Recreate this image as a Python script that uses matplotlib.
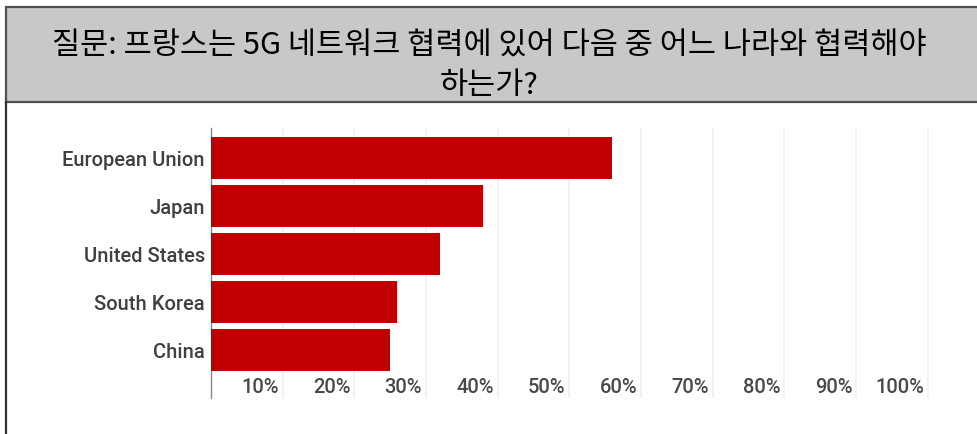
import matplotlib.pyplot as plt
from matplotlib.patches import Rectangle
from matplotlib.lines import Line2D
from matplotlib.transforms import ScaledTranslation

# survey answers (share of respondents, %)
countries = ["European Union", "Japan", "United States", "South Korea", "China"]
shares = [56, 38, 32, 26, 25]
tick_vals = [10, 20, 30, 40, 50, 60, 70, 80, 90, 100]
tick_labels = ["10%", "20%", "30%", "40%", "50%", "60%", "70%", "80%", "90%", "100%"]
title_lines = ["질문: 프랑스는 5G 네트워크 협력에 있어 다음 중 어느 나라와 협력해야", "하는가?"]

W, H = 978, 434
fig = plt.figure(figsize=(W / 100, H / 100), dpi=100)
fig.patch.set_facecolor("white")

# grey question box on top
fig.patches.append(Rectangle((6 / W, 1 - 102 / H), (W - 6) / W + 0.01, 95 / H,
                             transform=fig.transFigure, facecolor="#c8c8c8",
                             edgecolor="#505050", linewidth=1.6, zorder=0))
fig.lines.append(Line2D([6 / W, 6 / W], [0, 1 - 102 / H], transform=fig.transFigure,
                        color="#303030", linewidth=1.6))

kr = ["Noto Sans CJK KR", "DejaVu Sans"]
fig.text(489 / W, 1 - 46 / H, title_lines[0], ha="center", va="center",
         fontsize=22, family=kr, weight="medium", color="black")
fig.text(489 / W, 1 - 86 / H, title_lines[1], ha="center", va="center",
         fontsize=22, family=kr, weight="medium", color="black")

# bar chart
ax = fig.add_axes([211 / W, 1 - 398 / H, 724 / W, 270 / H])
pos = list(range(len(countries)))
ax.barh(pos, shares, height=0.875, color="#c00000", zorder=3)
ax.set_xlim(0, 101)
ax.set_ylim(5.0, -0.625)

ax.set_yticks(pos)
ax.set_yticklabels(countries, family="Roboto", fontsize=14.5, weight="medium", color="#404040")
ax.tick_params(axis="y", length=0, pad=4.5)

ax.set_xticks(tick_vals)
ax.set_xticklabels(tick_labels, family="Roboto", fontsize=14.5, weight="medium", color="#484848")
ax.tick_params(axis="x", length=0, pad=-14.5)
for lbl in ax.get_xticklabels():
    lbl.set_horizontalalignment("right")
    lbl.set_transform(lbl.get_transform() + ScaledTranslation(-4 / 100, 0, fig.dpi_scale_trans))

ax.grid(axis="x", color="#f0f0f0", linewidth=1.2, zorder=0)
for side in ["top", "right", "bottom"]:
    ax.spines[side].set_visible(False)
ax.spines["left"].set_color("#888888")
ax.spines["left"].set_linewidth(1)

fig.savefig("out.png", dpi=100)
